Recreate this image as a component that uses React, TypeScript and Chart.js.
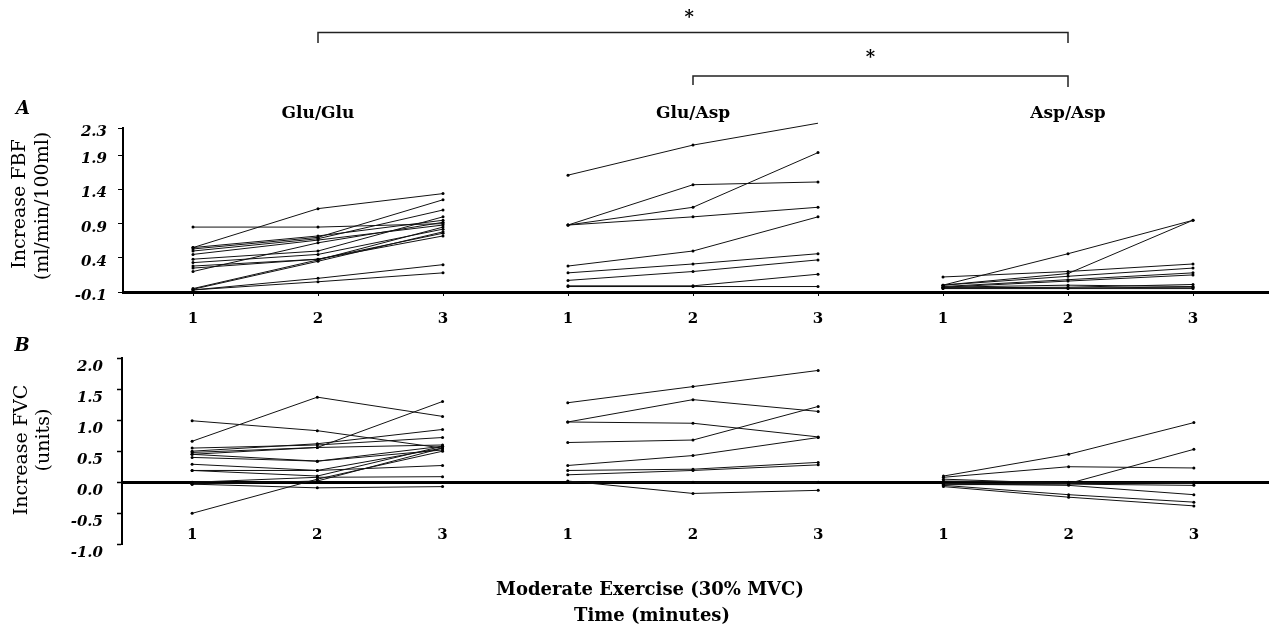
import React, { useEffect, useRef } from 'react';
import { Chart, registerables } from 'chart.js';

Chart.register(...registerables);

// ---------- data ----------
const groups = ['Glu/Glu', 'Glu/Asp', 'Asp/Asp'];
const timeLabels = ['1', '2', '3'];
const xPositions = [0, 1, 2, 3, 4, 5, 6, 7, 8];
const yTicksFBF = [-0.1, 0.4, 0.9, 1.4, 1.9, 2.3];
const yTicksFVC = [-1.0, -0.5, 0.0, 0.5, 1.0, 1.5, 2.0];

// Panel A: increase in forearm blood flow (ml/min/100ml), one row per subject, minutes 1-3
const fbfGluGlu = [
  [0.55, 1.12, 1.34],
  [0.85, 0.85, 0.9],
  [0.53, 0.7, 1.25],
  [0.5, 0.68, 1.1],
  [0.55, 0.72, 0.95],
  [0.45, 0.66, 0.88],
  [0.38, 0.5, 1.0],
  [0.33, 0.45, 0.82],
  [0.28, 0.38, 0.76],
  [0.25, 0.38, 0.72],
  [-0.05, 0.37, 0.85],
  [-0.06, 0.35, 0.78],
  [-0.07, 0.1, 0.3],
  [-0.07, 0.05, 0.18],
  [0.2, 0.62, 0.92],
];
const fbfGluAsp = [
  [1.61, 2.05, 2.37],
  [0.88, 1.47, 1.51],
  [0.88, 1.14, 1.94],
  [0.88, 1.0, 1.14],
  [0.28, 0.5, 1.0],
  [0.18, 0.31, 0.46],
  [0.07, 0.2, 0.37],
  [-0.01, -0.01, 0.16],
  [-0.02, -0.02, -0.02],
];
const fbfAspAsp = [
  [0.0, 0.46, 0.95],
  [0.0, 0.17, 0.95],
  [0.12, 0.2, 0.31],
  [0.0, 0.13, 0.25],
  [-0.02, 0.08, 0.18],
  [-0.03, 0.06, 0.15],
  [-0.04, -0.04, -0.03],
  [-0.05, -0.05, -0.05],
  [-0.03, 0.0, -0.02],
  [-0.04, -0.03, 0.01],
];

// Panel B: increase in forearm vascular conductance (units)
const fvcGluGlu = [
  [0.99, 0.83, 0.55],
  [0.66, 1.37, 1.06],
  [0.45, 0.56, 1.3],
  [0.5, 0.62, 0.85],
  [0.55, 0.6, 0.72],
  [0.48, 0.56, 0.6],
  [0.45, 0.34, 0.58],
  [0.4, 0.34, 0.52],
  [0.29, 0.19, 0.55],
  [0.19, 0.19, 0.27],
  [0.19, 0.1, 0.58],
  [0.0, 0.08, 0.09],
  [-0.03, 0.02, 0.55],
  [-0.03, -0.09, -0.07],
  [-0.5, 0.05, 0.5],
];
const fvcGluAsp = [
  [1.28, 1.54, 1.8],
  [0.97, 1.33, 1.14],
  [0.97, 0.95, 0.73],
  [0.64, 0.68, 1.22],
  [0.27, 0.43, 0.72],
  [0.19, 0.21, 0.32],
  [0.12, 0.19, 0.28],
  [0.02, -0.18, -0.13],
  [0.0, 0.0, 0.0],
];
const fvcAspAsp = [
  [0.1, 0.45, 0.96],
  [0.08, 0.25, 0.23],
  [-0.02, -0.02, 0.53],
  [0.02, 0.0, -0.02],
  [-0.03, -0.05, -0.2],
  [-0.05, -0.2, -0.32],
  [-0.07, -0.24, -0.38],
  [-0.04, -0.03, -0.05],
  [0.05, -0.02, 0.0],
];

const FONT = "'DejaVu Serif', 'Liberation Serif', serif";
const W = 1273;
const HA = 335;
const HB = 300;

function buildDatasets(groupRows: number[][][]) {
  const ds: any[] = [];
  groupRows.forEach((rows, g) => {
    rows.forEach((row) => {
      ds.push({
        data: row.map((v, i) => ({ x: xPositions[g * 3 + i], y: v })),
        borderColor: '#111',
        borderWidth: 1,
        pointRadius: 1.5,
        pointBackgroundColor: '#000',
        pointBorderColor: '#000',
        pointBorderWidth: 0,
        clip: false,
        tension: 0,
      });
    });
  });
  return ds;
}

function fixedTicks(values: number[]) {
  return (scale: any) => {
    scale.ticks = values.map((v) => ({ value: v }));
  };
}

function drawRotated(ctx: CanvasRenderingContext2D, text: string, x: number, y: number, font: string) {
  ctx.save();
  ctx.translate(x, y);
  ctx.rotate(-Math.PI / 2);
  ctx.font = font;
  ctx.textAlign = 'center';
  ctx.textBaseline = 'middle';
  ctx.fillText(text, 0, 0);
  ctx.restore();
}

const annotA = {
  id: 'annotA',
  afterDraw(chart: any) {
    const ctx = chart.ctx as CanvasRenderingContext2D;
    const xs = chart.scales.x;
    ctx.save();
    ctx.fillStyle = '#000';
    // group titles
    ctx.font = `bold 17px ${FONT}`;
    ctx.textAlign = 'center';
    ctx.textBaseline = 'middle';
    groups.forEach((g, i) => {
      ctx.fillText(g, xs.getPixelForValue(xPositions[i * 3 + 1]), 114);
    });
    // significance brackets
    ctx.strokeStyle = '#222';
    ctx.lineWidth = 1.5;
    const b1l = xs.getPixelForValue(1);
    const b2l = xs.getPixelForValue(4);
    const br = xs.getPixelForValue(7);
    ctx.beginPath();
    ctx.moveTo(b1l, 43);
    ctx.lineTo(b1l, 32.5);
    ctx.lineTo(br, 32.5);
    ctx.lineTo(br, 43);
    ctx.moveTo(b2l, 85);
    ctx.lineTo(b2l, 76);
    ctx.lineTo(br, 76);
    ctx.lineTo(br, 87);
    ctx.stroke();
    ctx.font = `bold 18px ${FONT}`;
    ctx.fillText('*', xs.getPixelForValue(3.97), 18);
    ctx.fillText('*', xs.getPixelForValue(5.42), 58);
    // panel letter
    ctx.font = `italic bold 18px ${FONT}`;
    ctx.fillText('A', 23, 109);
    // y title
    drawRotated(ctx, 'Increase FBF', 20, 204, `19px ${FONT}`);
    drawRotated(ctx, '(ml/min/100ml)', 43, 206, `19px ${FONT}`);
    ctx.restore();
  },
};

const annotB = {
  id: 'annotB',
  afterDraw(chart: any) {
    const ctx = chart.ctx as CanvasRenderingContext2D;
    const xs = chart.scales.x;
    ctx.save();
    ctx.fillStyle = '#000';
    ctx.textAlign = 'center';
    ctx.textBaseline = 'middle';
    // time labels under panel B (drawn inside the plot, as in the original)
    ctx.font = `bold 15px ${FONT}`;
    xPositions.forEach((p, i) => {
      ctx.fillText(timeLabels[i % 3], xs.getPixelForValue(p), 200);
    });
    ctx.font = `italic bold 18px ${FONT}`;
    ctx.fillText('B', 22, 11);
    drawRotated(ctx, 'Increase FVC', 22, 115, `19px ${FONT}`);
    drawRotated(ctx, '(units)', 44, 105, `19px ${FONT}`);
    ctx.font = `bold 18px ${FONT}`;
    ctx.fillText('Moderate Exercise (30% MVC)', 650, 255);
    ctx.fillText('Time (minutes)', 652, 281);
    ctx.restore();
  },
};

function commonX(labelPadding: number, height: number, showBorder: boolean) {
  return {
    type: 'linear',
    min: -0.56,
    max: 8.6,
    afterBuildTicks: fixedTicks(xPositions),
    afterFit: (s: any) => {
      s.height = height;
    },
    grid: showBorder
      ? { display: true, drawOnChartArea: false, drawTicks: true, tickLength: 4, color: '#000' }
      : { display: false, drawTicks: false },
    border: { display: showBorder, color: '#000', width: 3 },
    ticks: {
      display: showBorder,
      callback: (_v: any, i: number) => timeLabels[i % 3],
      font: { family: FONT, size: 15, weight: 'bold' },
      color: '#000',
      padding: labelPadding,
      maxRotation: 0,
      autoSkip: false,
    },
  };
}

export default function App() {
  const refA = useRef<HTMLCanvasElement>(null);
  const refB = useRef<HTMLCanvasElement>(null);

  useEffect(() => {
    const chartA = new Chart(refA.current as HTMLCanvasElement, {
      type: 'line',
      data: { datasets: buildDatasets([fbfGluGlu, fbfGluAsp, fbfAspAsp]) },
      options: {
        responsive: false,
        animation: false,
        layout: { padding: { top: 128, right: 5, left: 0, bottom: 0 } },
        plugins: { legend: { display: false }, tooltip: { enabled: false } },
        scales: {
          x: commonX(14, HA - 292, true) as any,
          y: {
            type: 'linear',
            min: -0.1,
            max: 2.3,
            afterBuildTicks: fixedTicks(yTicksFBF),
            afterFit: (s: any) => {
              s.width = 123;
            },
            grid: { display: true, drawOnChartArea: false, drawTicks: true, tickLength: 5, color: '#000' },
            border: { display: true, color: '#000', width: 2 },
            ticks: {
              callback: (v: any) => Number(v).toFixed(1),
              font: { family: FONT, size: 15, weight: 'bold', style: 'italic' },
              color: '#000',
              padding: 11,
              labelOffset: 4,
            },
          },
        },
      },
      plugins: [annotA],
    });

    const topB = 356.3 - HA;
    const chartB = new Chart(refB.current as HTMLCanvasElement, {
      type: 'line',
      data: { datasets: buildDatasets([fvcGluGlu, fvcGluAsp, fvcAspAsp]) },
      options: {
        responsive: false,
        animation: false,
        layout: { padding: { top: topB, right: 3, left: 0, bottom: 0 } },
        plugins: { legend: { display: false }, tooltip: { enabled: false } },
        scales: {
          x: commonX(0, HB - (544.4 - HA), false) as any,
          y: {
            type: 'linear',
            min: -1,
            max: 2,
            afterBuildTicks: fixedTicks(yTicksFVC),
            afterFit: (s: any) => {
              s.width = 122;
            },
            grid: {
              display: true,
              drawOnChartArea: true,
              drawTicks: true,
              tickLength: 5,
              color: (c: any) => (c.tick && c.tick.value === 0 ? '#000' : 'rgba(0,0,0,0)'),
              lineWidth: (c: any) => (c.tick && c.tick.value === 0 ? 3 : 1),
              tickColor: '#000',
              tickWidth: 1.5,
            },
            border: { display: true, color: '#000', width: 2 },
            ticks: {
              callback: (v: any) => Number(v).toFixed(1),
              font: { family: FONT, size: 15, weight: 'bold', style: 'italic' },
              color: '#000',
              padding: 14,
              labelOffset: 9,
            },
          },
        },
      },
      plugins: [annotB],
    });

    return () => {
      chartA.destroy();
      chartB.destroy();
    };
  }, []);

  return (
    <div style={{ position: 'absolute', left: 0, top: 0, width: W, height: HA + HB, background: '#fff' }}>
      <canvas ref={refA} width={W} height={HA} style={{ position: 'absolute', left: 0, top: 0, display: 'block' }} />
      <canvas ref={refB} width={W} height={HB} style={{ position: 'absolute', left: 0, top: HA, display: 'block' }} />
    </div>
  );
}
